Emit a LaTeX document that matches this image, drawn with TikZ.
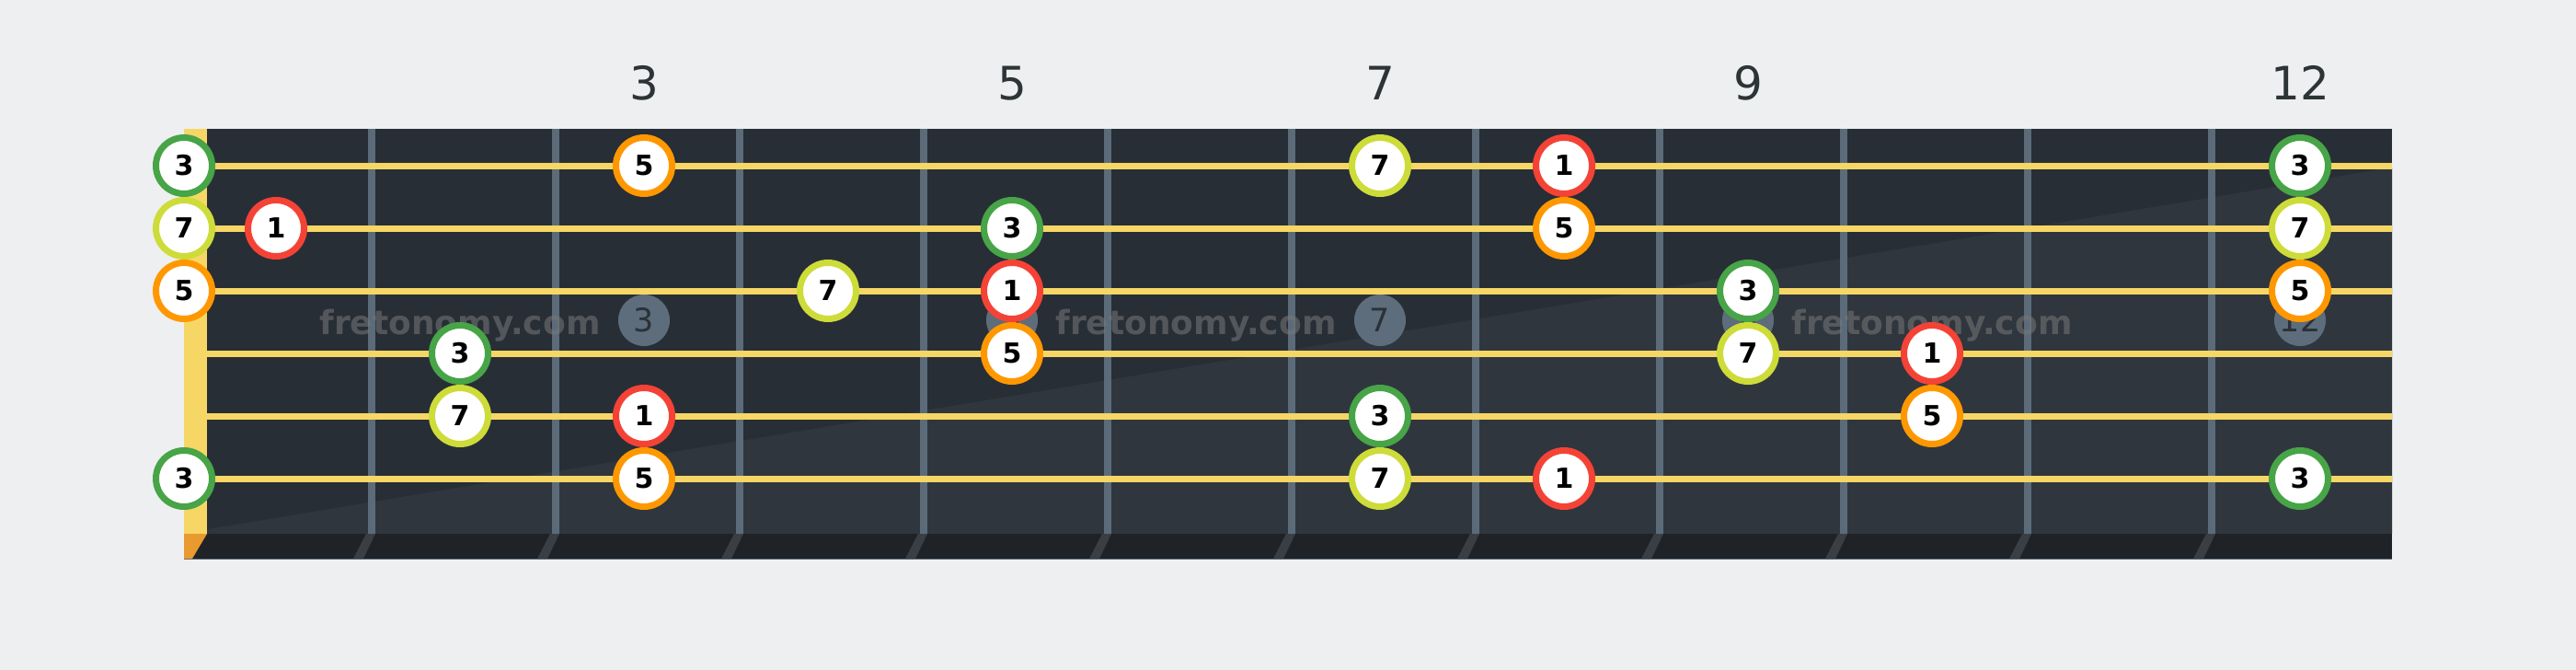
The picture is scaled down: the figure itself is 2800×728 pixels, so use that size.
\documentclass[tikz,border=0pt]{standalone}
\usepackage{fontspec}
\setmainfont{DejaVu Sans}
\newfontfamily\djbold{DejaVu Sans}[FakeBold=0]
\usetikzlibrary{calc}
\definecolor{bgc}{HTML}{EEEFF1}
\definecolor{boardd}{HTML}{282E36}
\definecolor{boardl}{HTML}{30363E}
\definecolor{stripc}{HTML}{1F2327}
\definecolor{fretc}{HTML}{5B6B79}
\definecolor{strc}{HTML}{F6D765}
\definecolor{nutbot}{HTML}{E99A2E}
\definecolor{shadc}{HTML}{3A3F45}
\definecolor{cgreen}{HTML}{47A447}
\definecolor{clime}{HTML}{CDDC39}
\definecolor{corange}{HTML}{FF9800}
\definecolor{cred}{HTML}{F44336}
\definecolor{markc}{HTML}{5D6D7B}
\definecolor{marktxt}{HTML}{2B3138}
\definecolor{topc}{HTML}{2D3436}
\definecolor{wmc}{HTML}{787878}
\begin{document}
\begin{tikzpicture}[x=1pt,y=-1pt,
  notec/.style={circle, draw=#1, line width=7pt, fill=white, minimum size=61pt, inner sep=0pt,
    font=\fontsize{30}{30}\selectfont\bfseries, text=black},
  markerc/.style={circle, fill=markc, minimum size=56pt, inner sep=0pt,
    font=\fontsize{35}{35}\selectfont, text=marktxt},
  wmark/.style={anchor=base, inner sep=0pt, font=\fontsize{36}{36}\selectfont\bfseries,
    text=wmc, text opacity=0.55},
  topnum/.style={anchor=base, inner sep=0pt, font=\fontsize{50}{50}\selectfont, text=topc},
  fretline/.style={draw=fretc, line width=8pt},
  stringline/.style={draw=strc, line width=7pt}]
\useasboundingbox (0,0) rectangle (2800,728);
\fill[bgc] (0,0) rectangle (2800,728);
% board
\fill[boardd] (200,140) rectangle (2600,580);
\fill[boardl] (225,575) -- (2600,182) -- (2600,580) -- (225,580) -- cycle;
\fill[stripc] (200,580) rectangle (2600,608);
\draw[fretc, line width=1.5pt] (200,607.5) -- (2600,607.5);
% frets
\foreach \n in {1,...,11}{
  \pgfmathsetmacro{\fx}{200*\n+204}
  \draw[fretline] (\fx,140) -- (\fx,580);
  \fill[shadc] (\fx-6,580) -- (\fx+4,580) -- (\fx-9,607) -- (\fx-20,607) -- cycle;
}
% nut
\fill[strc] (200,140) rectangle (225,580);
\fill[nutbot] (200,580) -- (225,580) -- (209,607) -- (200,607) -- cycle;
% fret markers
\node[markerc] (m3) at (700,348) {3};
\node[markerc] (m5) at (1100,348) {5};
\node[markerc] (m7) at (1500,348) {7};
\node[markerc] (m9) at (1900,348) {9};
\node[markerc] (m12) at (2500,348) {12};
% watermarks
\node[wmark] (w1) at (500,363) {fretonomy.com};
\node[wmark] (w2) at (1300,363) {fretonomy.com};
\node[wmark] (w3) at (2100,363) {fretonomy.com};
% top numbers
\node[topnum] (t3) at (700,108) {3};
\node[topnum] (t5) at (1100,108) {5};
\node[topnum] (t7) at (1500,108) {7};
\node[topnum] (t9) at (1900,108) {9};
\node[topnum] (t12) at (2500,108) {12};
% strings
\foreach \y in {180,248,316,384,452,520}{
  \draw[stringline] (225,\y) -- (2600,\y);
}
% string 1
\node[notec=cgreen] (a0) at (200,180) {3};
\node[notec=corange] (a3) at (700,180) {5};
\node[notec=clime] (a7) at (1500,180) {7};
\node[notec=cred] (a8) at (1700,180) {1};
\node[notec=cgreen] (a12) at (2500,180) {3};
% string 2
\node[notec=clime] (b0) at (200,248) {7};
\node[notec=cred] (b1) at (300,248) {1};
\node[notec=cgreen] (b5) at (1100,248) {3};
\node[notec=corange] (b8) at (1700,248) {5};
\node[notec=clime] (b12) at (2500,248) {7};
% string 3
\node[notec=corange] (c0) at (200,316) {5};
\node[notec=clime] (c4) at (900,316) {7};
\node[notec=cred] (c5) at (1100,316) {1};
\node[notec=cgreen] (c9) at (1900,316) {3};
\node[notec=corange] (c12) at (2500,316) {5};
% string 4
\node[notec=cgreen] (d2) at (500,384) {3};
\node[notec=corange] (d5) at (1100,384) {5};
\node[notec=clime] (d9) at (1900,384) {7};
\node[notec=cred] (d10) at (2100,384) {1};
% string 5
\node[notec=clime] (e2) at (500,452) {7};
\node[notec=cred] (e3) at (700,452) {1};
\node[notec=cgreen] (e7) at (1500,452) {3};
\node[notec=corange] (e10) at (2100,452) {5};
% string 6
\node[notec=cgreen] (f0) at (200,520) {3};
\node[notec=corange] (f3) at (700,520) {5};
\node[notec=clime] (f7) at (1500,520) {7};
\node[notec=cred] (f8) at (1700,520) {1};
\node[notec=cgreen] (f12) at (2500,520) {3};
\end{tikzpicture}
\end{document}
